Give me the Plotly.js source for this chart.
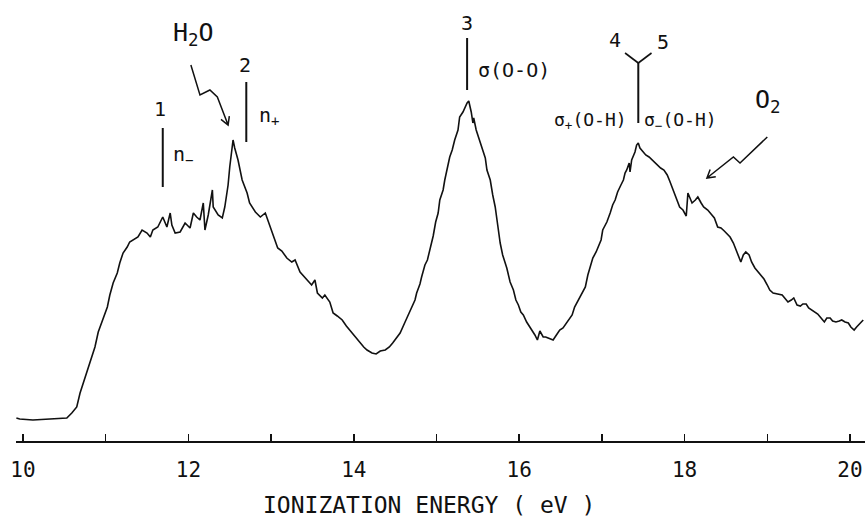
<!DOCTYPE html>
<html>
<head>
<meta charset="utf-8">
<script src="https://cdn.plot.ly/plotly-3.0.1.min.js"></script>
<style>
  html, body { margin: 0; padding: 0; background: #ffffff; }
  #chart { width: 868px; height: 524px; }
</style>
</head>
<body>
<div id="chart"></div>
<script>
// Ionization energy (eV)
const energy = [
  9.92, 9.96, 10.12, 10.33, 10.45, 10.53, 10.59, 10.65, 10.69, 10.75,
  10.81, 10.87, 10.91, 10.96, 11.02, 11.05, 11.09, 11.14, 11.17, 11.21,
  11.26, 11.29, 11.33, 11.39, 11.44, 11.50, 11.54, 11.57, 11.63, 11.69,
  11.74, 11.78, 11.80, 11.84, 11.90, 11.96, 12.02, 12.06, 12.10, 12.14,
  12.18, 12.20, 12.24, 12.29, 12.30, 12.36, 12.41, 12.44, 12.48, 12.50,
  12.54, 12.56, 12.60, 12.65, 12.71, 12.74, 12.81, 12.87, 12.93, 12.96,
  13.01, 13.05, 13.08, 13.13, 13.19, 13.25, 13.29, 13.35, 13.43, 13.49,
  13.53, 13.56, 13.62, 13.65, 13.71, 13.75, 13.80, 13.86, 13.91, 13.95,
  14.01, 14.07, 14.12, 14.16, 14.22, 14.27, 14.32, 14.38, 14.43, 14.47,
  14.52, 14.56, 14.62, 14.66, 14.70, 14.74, 14.76, 14.80, 14.82, 14.86,
  14.89, 14.92, 14.96, 14.99, 15.02, 15.04, 15.08, 15.10, 15.14, 15.16,
  15.19, 15.22, 15.26, 15.28, 15.32, 15.34, 15.37, 15.39, 15.42, 15.44,
  15.45, 15.48, 15.51, 15.55, 15.59, 15.61, 15.65, 15.68, 15.71, 15.74,
  15.77, 15.80, 15.85, 15.89, 15.93, 15.96, 15.99, 16.02, 16.05, 16.09,
  16.13, 16.17, 16.19, 16.22, 16.25, 16.29, 16.32, 16.35, 16.38, 16.41,
  16.45, 16.49, 16.53, 16.57, 16.60, 16.64, 16.67, 16.71, 16.74, 16.77,
  16.80, 16.83, 16.86, 16.89, 16.93, 16.95, 16.99, 17.01, 17.06, 17.10,
  17.13, 17.16, 17.19, 17.23, 17.26, 17.28, 17.30, 17.33, 17.34, 17.36,
  17.40, 17.42, 17.44, 17.46, 17.50, 17.53, 17.57, 17.61, 17.64, 17.68,
  17.71, 17.75, 17.79, 17.82, 17.86, 17.91, 17.94, 17.98, 18.02, 18.04,
  18.07, 18.09, 18.13, 18.16, 18.20, 18.23, 18.28, 18.32, 18.36, 18.40,
  18.44, 18.48, 18.51, 18.55, 18.59, 18.62, 18.66, 18.68, 18.71, 18.74,
  18.78, 18.81, 18.85, 18.89, 18.92, 18.96, 19.00, 19.03, 19.07, 19.11,
  19.14, 19.18, 19.21, 19.25, 19.29, 19.32, 19.36, 19.40, 19.43, 19.47,
  19.50, 19.54, 19.58, 19.61, 19.65, 19.69, 19.72, 19.76, 19.79, 19.83,
  19.87, 19.90, 19.94, 19.98, 20.01, 20.05, 20.08, 20.12, 20.16
];
// Photoelectron intensity (arbitrary units)
const intensity = [
  23, 22, 21, 22, 22, 23, 28, 34, 48, 64,
  78, 94, 109, 121, 134, 146, 158, 168, 178, 188,
  194, 199, 201, 204, 211, 208, 204, 211, 214, 224,
  214, 228, 216, 208, 209, 218, 213, 228, 224, 221,
  238, 211, 226, 251, 234, 226, 223, 234, 256, 274,
  301, 293, 281, 261, 248, 238, 229, 224, 228, 221,
  211, 201, 193, 190, 183, 179, 181, 169, 161, 156,
  161, 148, 143, 146, 139, 128, 125, 121, 115, 111,
  104, 98, 94, 91, 88, 87, 90, 91, 94, 98,
  103, 108, 119, 126, 134, 141, 148, 157, 164, 176,
  181, 191, 205, 219, 228, 241, 251, 261, 276, 284,
  291, 301, 311, 324, 329, 333, 338, 340, 329, 318,
  323, 311, 303, 294, 283, 271, 261, 246, 234, 216,
  198, 186, 173, 159, 151, 141, 136, 129, 126, 119,
  114, 108, 106, 101, 110, 104, 104, 103, 102, 101,
  106, 111, 113, 118, 122, 126, 134, 140, 144, 150,
  154, 166, 174, 183, 189, 193, 201, 211, 219, 228,
  236, 241, 249, 256, 261, 268, 271, 278, 269, 281,
  289, 296, 298, 293, 289, 286, 284, 281, 278, 276,
  273, 271, 266, 260, 251, 241, 234, 231, 225, 248,
  241, 238, 241, 244, 238, 234, 231, 227, 223, 214,
  213, 210, 207, 204, 198, 191, 183, 179, 186, 189,
  186, 179, 173, 169, 166, 162, 156, 151, 148, 147,
  147, 146, 143, 139, 141, 143, 136, 135, 137, 137,
  133, 131, 129, 127, 123, 119, 123, 123, 120, 119,
  120, 121, 119, 118, 114, 111, 114, 117, 121
];
const tickValues = [10, 12, 14, 16, 18, 20];
const tickLabels = ['10', '12', '14', '16', '18', '20'];
const xTitle = 'IONIZATION ENERGY ( eV )';

const ink = '#111111';
const fam = '"DejaVu Sans Mono", "Liberation Mono", monospace';

const trace = {
  x: energy, y: intensity, type: 'scatter', mode: 'lines',
  line: { color: ink, width: 1.6 }, hoverinfo: 'skip'
};

function vline(x, y0, y1) {
  return { type: 'line', xref: 'x', yref: 'y', x0: x, x1: x, y0: y0, y1: y1,
           line: { color: ink, width: 2 } };
}
function seg(xa, ya, xb, yb) {
  return { type: 'line', xref: 'x', yref: 'y', x0: xa, x1: xb, y0: ya, y1: yb,
           line: { color: ink, width: 1.6 } };
}
function label(x, y, text, size, xanchor) {
  return { x: x, y: y, xref: 'x', yref: 'y', text: text, showarrow: false,
           xanchor: xanchor || 'center', yanchor: 'middle',
           font: { family: fam, size: size, color: ink } };
}

const shapes = [
  vline(11.69, 254, 313),
  vline(12.70, 299, 359),
  vline(15.37, 351, 403),
  vline(17.44, 318, 378),
  seg(17.28, 388, 17.44, 378),
  seg(17.44, 378, 17.60, 388),
  // zig-zag pointer from the H2O label, with open arrowhead
  { type: 'path', xref: 'x', yref: 'y',
    path: 'M 12.03 376 L 12.14 346 L 12.26 351 L 12.35 344 L 12.48 316 ' +
          'M 12.394 321.6 L 12.48 316 L 12.495 324.9',
    line: { color: ink, width: 1.5 } },
  // zig-zag pointer from the O2 label, with open arrowhead
  { type: 'path', xref: 'x', yref: 'y',
    path: 'M 19.00 304 L 18.67 278 L 18.59 284 L 18.27 263 ' +
          'M 18.377 264.3 L 18.27 263 L 18.309 271.4',
    line: { color: ink, width: 1.5 } }
];

const annotations = [
  label(11.66, 332, '1', 20),
  label(11.79, 286, 'n<sub>−</sub>', 20, 'left'),
  label(12.68, 376, '2', 20),
  label(12.83, 325, 'n<sub>+</sub>', 20, 'left'),
  label(12.06, 407, 'H<sub>2</sub>O', 25),
  label(15.37, 418, '3', 20),
  label(15.48, 371, 'σ(O-O)', 20, 'left'),
  label(17.16, 401, '4', 20),
  label(17.74, 399, '5', 20),
  label(17.33, 320, 'σ<sub>+</sub>(O-H)', 18, 'right'),
  label(17.48, 320, 'σ<sub>−</sub>(O-H)', 18, 'left'),
  label(19.01, 340, 'O<sub>2</sub>', 25),
  { xref: 'paper', yref: 'paper', x: 0.486, y: -0.145, xanchor: 'center', yanchor: 'middle',
    text: xTitle, showarrow: false, font: { family: fam, size: 23, color: ink } }
];

const layout = {
  width: 868, height: 524,
  margin: { l: 16, r: 3, t: 0, b: 83 },
  paper_bgcolor: '#ffffff', plot_bgcolor: '#ffffff',
  showlegend: false,
  xaxis: {
    range: [9.9154, 20.1814],
    tickmode: 'array', tickvals: tickValues, ticktext: tickLabels,
    ticks: 'inside', ticklen: 7, tickwidth: 1.5, tickcolor: ink,
    minor: { ticks: 'inside', tick0: 10, dtick: 1, ticklen: 7, tickwidth: 1.5,
             tickcolor: ink, showgrid: false },
    showline: true, linecolor: ink, linewidth: 2,
    showgrid: false, zeroline: false,
    ticklabelstandoff: 9,
    tickfont: { family: fam, size: 21, color: ink }
  },
  yaxis: {
    range: [0, 441], visible: false, showgrid: false, zeroline: false
  },
  shapes: shapes,
  annotations: annotations
};

Plotly.newPlot('chart', [trace], layout, { displayModeBar: false, staticPlot: true });
</script>
</body>
</html>
